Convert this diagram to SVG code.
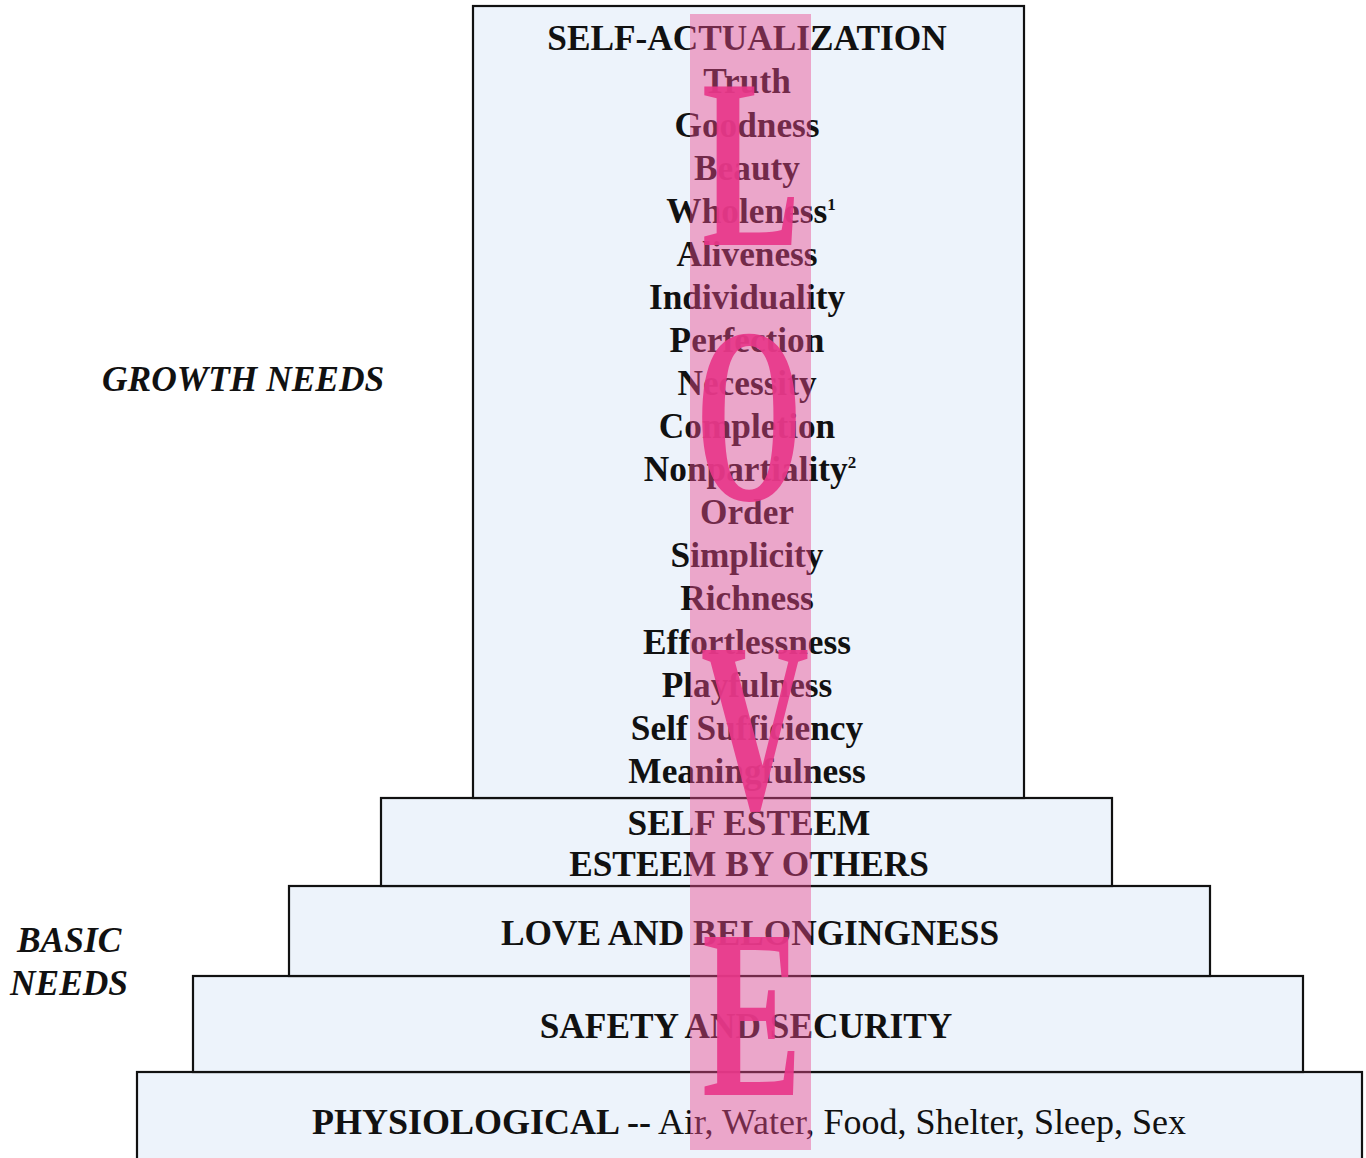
<svg xmlns="http://www.w3.org/2000/svg" width="1366" height="1158" viewBox="0 0 1366 1158">
<style>
.box{fill:#edf3fb;stroke:#111;stroke-width:2.2}
.t{font-family:"Liberation Serif","Times New Roman",serif;font-weight:bold;font-size:35.3px;fill:#111;text-anchor:middle}
.side{font-family:"Liberation Serif","Times New Roman",serif;font-weight:bold;font-style:italic;font-size:35.4px;fill:#111}
.reg{font-weight:normal}
.sup{font-size:17px}
.big{font-family:"Liberation Serif","Times New Roman",serif;font-weight:bold;font-size:242px;fill:#e8388a;text-anchor:middle;opacity:0.92}
</style>
<rect width="1366" height="1158" fill="#ffffff"/>
<g id="physiological">
<rect class="box" x="137" y="1072" width="1225" height="96"/>
<text class="t" x="749" y="1134" style="font-size:36px">PHYSIOLOGICAL --<tspan class="reg"> Air, Water, Food, Shelter, Sleep, Sex</tspan></text>
</g>
<g id="safety">
<rect class="box" x="193" y="976" width="1110" height="96"/>
<text class="t" x="746" y="1038">SAFETY AND SECURITY</text>
</g>
<g id="love-belonging">
<rect class="box" x="289" y="886" width="921" height="90"/>
<text class="t" x="750" y="945">LOVE AND BELONGINGNESS</text>
</g>
<g id="esteem">
<rect class="box" x="381" y="798" width="731" height="88"/>
<text class="t" x="749" y="835">SELF ESTEEM</text>
<text class="t" x="749" y="876">ESTEEM BY OTHERS</text>
</g>
<g id="self-actualization">
<rect class="box" x="473" y="6" width="551" height="792"/>
<text class="t" x="747" y="50">SELF-ACTUALIZATION</text>
<text class="t" x="747" y="93">Truth</text>
<text class="t" x="747" y="137">Goodness</text>
<text class="t" x="747" y="180">Beauty</text>
<text class="t" x="751" y="223">Wholeness<tspan class="sup" dy="-13">1</tspan></text>
<text class="t" x="747" y="266">Aliveness</text>
<text class="t" x="747" y="309">Individuality</text>
<text class="t" x="747" y="352">Perfection</text>
<text class="t" x="747" y="395">Necessity</text>
<text class="t" x="747" y="438">Completion</text>
<text class="t" x="750" y="481">Nonpartiality<tspan class="sup" dy="-13">2</tspan></text>
<text class="t" x="747" y="524">Order</text>
<text class="t" x="747" y="567">Simplicity</text>
<text class="t" x="747" y="610">Richness</text>
<text class="t" x="747" y="654">Effortlessness</text>
<text class="t" x="747" y="697">Playfulness</text>
<text class="t" x="747" y="740">Self Sufficiency</text>
<text class="t" x="747" y="783">Meaningfulness</text>
</g>
<g id="love-overlay">
<rect x="690" y="14" width="121" height="1136" fill="#e84a8f" opacity="0.45"/>
<text class="big" transform="translate(751,245) scale(0.61,1)">L</text>
<text class="big" transform="translate(749,500) scale(0.55,1)" style="font-size:250px">O</text>
<text class="big" transform="translate(755,808) scale(0.62,1)">V</text>
<text class="big" transform="translate(752,1095) scale(0.62,1)">E</text>
</g>
<g id="labels">
<text class="side" x="102" y="391">GROWTH NEEDS</text>
<text class="side" x="17" y="952">BASIC</text>
<text class="side" x="10" y="995">NEEDS</text>
</g>
</svg>
